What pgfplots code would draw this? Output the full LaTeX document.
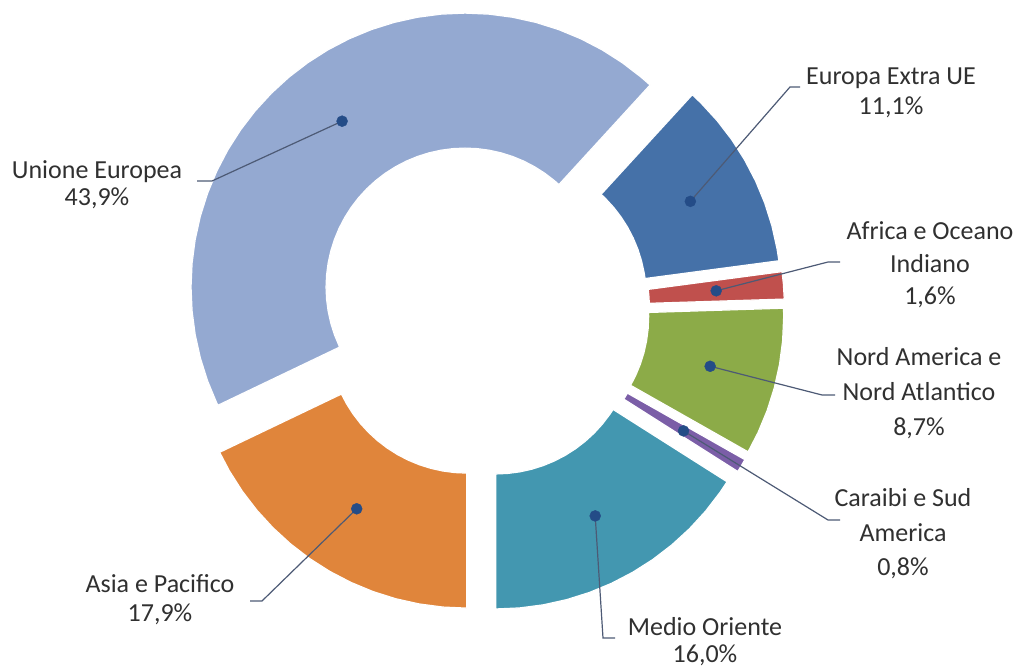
\documentclass[border=0pt]{standalone}
\usepackage{pgfplots}
\usepackage{pgfplotstable}
\pgfplotsset{compat=1.18}
\usepackage{fontspec}
\setmainfont{Carlito}
\definecolor{cue}{HTML}{94A9D1}
\definecolor{cee}{HTML}{4571A8}
\definecolor{caf}{HTML}{C0504D}
\definecolor{cna}{HTML}{8CAB48}
\definecolor{cca}{HTML}{7B5EA7}
\definecolor{cmo}{HTML}{4397B0}
\definecolor{cas}{HTML}{E0853B}
\definecolor{cdot}{HTML}{244C87}
\definecolor{cline}{HTML}{4D5A75}
\definecolor{ctxt}{HTML}{303030}
% shares (%): UE 43.9, Asia 17.9, Medio Oriente 16.0, Caraibi 0.8, Nord America 8.7, Africa 1.6, Europa Extra UE 11.1
% slice outlines: angle a (deg), radius r (outer 274, inner 139)
\pgfplotstableread[row sep=\\]{
a r\\
47.52 274\\ 50 274\\ 55 274\\ 60 274\\ 65 274\\ 70 274\\ 75 274\\ 80 274\\ 85 274\\ 90 274\\ 95 274\\ 100 274\\ 105 274\\ 110 274\\ 115 274\\ 120 274\\ 125 274\\ 130 274\\ 135 274\\ 140 274\\ 145 274\\ 150 274\\ 155 274\\ 160 274\\ 165 274\\ 170 274\\ 175 274\\ 180 274\\ 185 274\\ 190 274\\ 195 274\\ 200 274\\ 205 274\\ 205.56 274\\
205.56 139\\ 205 139\\ 200 139\\ 195 139\\ 190 139\\ 185 139\\ 180 139\\ 175 139\\ 170 139\\ 165 139\\ 160 139\\ 155 139\\ 150 139\\ 145 139\\ 140 139\\ 135 139\\ 130 139\\ 125 139\\ 120 139\\ 115 139\\ 110 139\\ 105 139\\ 100 139\\ 95 139\\ 90 139\\ 85 139\\ 80 139\\ 75 139\\ 70 139\\ 65 139\\ 60 139\\ 55 139\\ 50 139\\ 47.52 139\\
}\tUE
\pgfplotstableread[row sep=\\]{
a r\\
205.56 274\\ 210 274\\ 215 274\\ 220 274\\ 225 274\\ 230 274\\ 235 274\\ 240 274\\ 245 274\\ 250 274\\ 255 274\\ 260 274\\ 265 274\\ 270 274\\
270 139\\ 265 139\\ 260 139\\ 255 139\\ 250 139\\ 245 139\\ 240 139\\ 235 139\\ 230 139\\ 225 139\\ 220 139\\ 215 139\\ 210 139\\ 205.56 139\\
}\tAS
\pgfplotstableread[row sep=\\]{
a r\\
270 274\\ 275 274\\ 280 274\\ 285 274\\ 290 274\\ 295 274\\ 300 274\\ 305 274\\ 310 274\\ 315 274\\ 320 274\\ 325 274\\ 327.6 274\\
327.6 139\\ 325 139\\ 320 139\\ 315 139\\ 310 139\\ 305 139\\ 300 139\\ 295 139\\ 290 139\\ 285 139\\ 280 139\\ 275 139\\ 270 139\\
}\tMO
\pgfplotstableread[row sep=\\]{
a r\\
327.6 274\\ 329 274\\ 330.48 274\\ 330.48 139\\ 329 139\\ 327.6 139\\
}\tCA
\pgfplotstableread[row sep=\\]{
a r\\
330.48 274\\ 335 274\\ 340 274\\ 345 274\\ 350 274\\ 355 274\\ 360 274\\ 361.8 274\\
361.8 139\\ 360 139\\ 355 139\\ 350 139\\ 345 139\\ 340 139\\ 335 139\\ 330.48 139\\
}\tNA
\pgfplotstableread[row sep=\\]{
a r\\
361.8 274\\ 365 274\\ 367.56 274\\ 367.56 139\\ 365 139\\ 361.8 139\\
}\tAF
\pgfplotstableread[row sep=\\]{
a r\\
367.56 274\\ 370 274\\ 375 274\\ 380 274\\ 385 274\\ 390 274\\ 395 274\\ 400 274\\ 405 274\\ 407.52 274\\
407.52 139\\ 405 139\\ 400 139\\ 395 139\\ 390 139\\ 385 139\\ 380 139\\ 375 139\\ 370 139\\ 367.56 139\\
}\tEE
% label dots: bisector angle b of each slice, distance r from the chart centre
\pgfplotstableread[row sep=\\]{
b r\\ 126.54 235\\ 237.78 235\\ 298.8 235\\ 329.04 235\\ 346.14 235\\ 4.68 235\\ 27.54 235\\
}\tDots
\newcommand\slice[3]{%
  \addplot[draw=white, line width=1.2pt, fill=#3]
    table[x expr={482+28.5*cos(#2)+\thisrow{r}*cos(\thisrow{a})},
          y expr={359+28.5*sin(#2)+\thisrow{r}*sin(\thisrow{a})}] {#1} -- cycle;}
\newcommand\lab{\fontsize{26}{30}\selectfont\color{ctxt}}
\begin{document}
\begin{tikzpicture}
\begin{axis}[hide axis, scale only axis, width=1021pt, height=669pt,
  xmin=0, xmax=1021, ymin=0, ymax=669, clip=false]
\slice{\tUE}{126.54}{cue}
\slice{\tAS}{237.78}{cas}
\slice{\tMO}{298.8}{cmo}
\slice{\tCA}{329.04}{cca}
\slice{\tNA}{346.14}{cna}
\slice{\tAF}{4.68}{caf}
\slice{\tEE}{27.54}{cee}
% leader lines
\addplot[cline, line width=1.2pt] coordinates {(342.1,547.8) (212,488) (197,488)};
\addplot[cline, line width=1.2pt] coordinates {(690.4,467.7) (790,582) (800,582)};
\addplot[cline, line width=1.2pt] coordinates {(716.2,378.2) (828,407) (840,407)};
\addplot[cline, line width=1.2pt] coordinates {(710.2,302.7) (822,274) (835,274)};
\addplot[cline, line width=1.2pt] coordinates {(683.5,238.1) (828,149) (840,149)};
\addplot[cline, line width=1.2pt] coordinates {(595.2,153.1) (603,31) (615,31)};
\addplot[cline, line width=1.2pt] coordinates {(356.7,160.2) (262,68) (250,68)};
% dots
\addplot[only marks, mark=*, mark size=5.5pt, color=cdot]
  table[x expr={482+\thisrow{r}*cos(\thisrow{b})}, y expr={359+\thisrow{r}*sin(\thisrow{b})}] {\tDots};
% labels
\node[anchor=base, font=\lab] at (axis cs:97,490) {Unione Europea};
\node[anchor=base, font=\lab] at (axis cs:97,463) {43,9\%};
\node[anchor=base, font=\lab] at (axis cs:891,584) {Europa Extra UE};
\node[anchor=base, font=\lab] at (axis cs:891,554) {11,1\%};
\node[anchor=base, font=\lab] at (axis cs:930,429) {Africa e Oceano};
\node[anchor=base, font=\lab] at (axis cs:930,396) {Indiano};
\node[anchor=base, font=\lab] at (axis cs:930,364) {1,6\%};
\node[anchor=base, font=\lab] at (axis cs:919,303) {Nord America e};
\node[anchor=base, font=\lab] at (axis cs:919,268) {Nord Atlantico};
\node[anchor=base, font=\lab] at (axis cs:919,233) {8,7\%};
\node[anchor=base, font=\lab] at (axis cs:903,162) {Caraibi e Sud};
\node[anchor=base, font=\lab] at (axis cs:903,127) {America};
\node[anchor=base, font=\lab] at (axis cs:903,93) {0,8\%};
\node[anchor=base, font=\lab] at (axis cs:705,33) {Medio Oriente};
\node[anchor=base, font=\lab] at (axis cs:705,6) {16,0\%};
\node[anchor=base, font=\lab] at (axis cs:160,76) {Asia e Pacifico};
\node[anchor=base, font=\lab] at (axis cs:160,47) {17,9\%};
\end{axis}
\pgfresetboundingbox
\path[use as bounding box] (current axis.south west) rectangle (current axis.north east);
\end{tikzpicture}
\end{document}
